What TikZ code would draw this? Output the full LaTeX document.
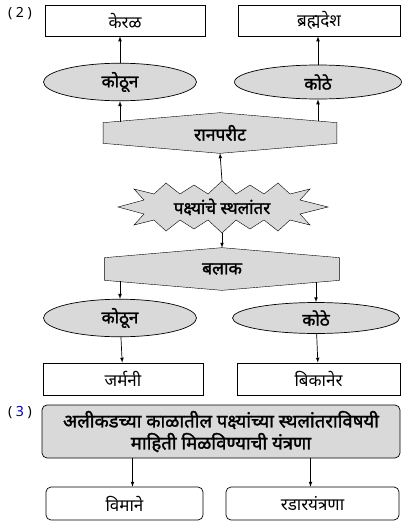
\documentclass[tikz,border=0pt]{standalone}
\usepackage{fontspec}
\newfontfamily\deva[Script=Devanagari]{Noto Sans}
\newfontfamily\devab[Script=Devanagari, FakeBold=1.6]{Noto Sans}
\usetikzlibrary{shapes.geometric, positioning, backgrounds, calc, arrows}
\tikzstyle{place} = [rectangle, minimum width=160pt, minimum height=31pt, text centered, draw=black, font=\deva\fontsize{17}{20}\selectfont]
\tikzstyle{oval} = [ellipse, minimum width=153pt, minimum height=34pt, text centered, draw=black, fill=gray!30, font=\devab\fontsize{17}{20}\selectfont]
\tikzstyle{hexa} = [rectangle, minimum width=233pt, minimum height=40pt, text centered, font=\devab\fontsize{17.5}{20}\selectfont]
\tikzstyle{hexfill} = [draw=black, fill=gray!30]
\tikzstyle{burst} = [rectangle, inner sep=0pt, minimum width=212pt, minimum height=52pt, text centered, font=\devab\fontsize{17}{20}\selectfont]
\tikzstyle{bigbox} = [rectangle, rounded corners=5pt, minimum width=358pt, minimum height=53pt, align=center, draw=black, fill=gray!30, font=\devab\fontsize{18.5}{22}\selectfont]
\tikzstyle{tool} = [rectangle, rounded corners=5pt, minimum height=33pt, text centered, draw=black, font=\deva\fontsize{17}{20}\selectfont]
\tikzstyle{qno} = [font=\deva\fontsize{14}{16}\selectfont]
\tikzstyle{arrow} = [->,>=latex]
\def\hx{10}
\newcommand{\hexoutline}[1]{%
  \begin{scope}[on background layer]
  \filldraw[hexfill] (#1.north) -- ($(#1.north east)+(0,\hx)$) -- ($(#1.south east)+(0,-\hx)$) -- (#1.south) -- ($(#1.south west)+(0,-\hx)$) -- ($(#1.north west)+(0,\hx)$) -- cycle;
  \end{scope}}

\begin{document}
\begin{tikzpicture}[x=1pt, y=-1pt, line width=0.7pt]
\useasboundingbox (0,0) rectangle (408,528);

\node (lbltwo) [qno] at (20,14) {( 2 )};

\node (kerala) [place] at (125,20.5) {केरळ};
\node (brahma) [place, minimum width=162pt] at (319,20.5) {ब्रह्मदेश};
\node (kotun1) [oval] at (120,82) {कोठून};
\node (kothe1) [oval, minimum width=167pt] at (318,82) {कोठे};
\draw [arrow] (kotun1) -- (kerala.south -| kotun1);
\draw [arrow] (kothe1) -- (brahma.south -| kothe1);

\node (ranparit) [hexa] at (220,133) {रानपरीट};
\hexoutline{ranparit}
\draw [arrow] ($(ranparit.north -| kotun1)+(0,9)$) -- (kotun1);
\draw [arrow] ($(ranparit.north -| kothe1)+(0,8)$) -- (kothe1);

% starburst drawn by hand round the text
\node (sthal) [burst] at (222,207) {पक्ष्यांचे स्थलांतर};
\begin{scope}[on background layer, shift={(sthal.center)}]
\filldraw[hexfill] (106,0) -- (78,7) -- (88,18) -- (68,13) -- (56,24) -- (42,13) -- (28,22) -- (14,13) -- (0,26) -- (-14,13) -- (-28,22) -- (-42,13) -- (-56,24) -- (-68,13) -- (-88,18) -- (-78,7) -- (-104,0) -- (-78,-7) -- (-88,-18) -- (-68,-13) -- (-56,-24) -- (-42,-13) -- (-28,-22) -- (-14,-13) -- (0,-26) -- (14,-13) -- (28,-22) -- (42,-13) -- (56,-24) -- (68,-13) -- (88,-18) -- (78,-7) -- cycle;
\end{scope}
\draw [arrow] (sthal.north) -- (ranparit.south);

\node (balak) [hexa, minimum width=234pt, minimum height=42pt] at (222,269) {बलाक};
\hexoutline{balak}
\draw [arrow] (sthal.south) -- (balak.north);

\node (kotun2) [oval, minimum height=30pt] at (120,318) {कोठून};
\node (kothe2) [oval, minimum height=30pt, minimum width=167pt] at (316,318) {कोठे};
\draw [arrow] ($(balak.south -| kotun2)+(0,-9)$) -- (kotun2);
\draw [arrow] ($(balak.south -| kothe2)+(0,-8)$) -- (kothe2);

\node (jarmani) [place, minimum height=32pt] at (123,379) {जर्मनी};
\node (bikaner) [place, minimum height=32pt, minimum width=163pt] at (318.5,379) {बिकानेर};
\draw [arrow] (kotun2) -- (jarmani);
\draw [arrow] (kothe2) -- (bikaner);

\node (lblthree) [qno] at (20,413) {( \textcolor{blue!70!black}{3} )};
\node (yantrana) [bigbox] at (221,431.5) {अलीकडच्या काळातील पक्ष्यांच्या स्थलांतराविषयी\\ माहिती मिळविण्याची यंत्रणा};

\node (vimane) [tool, minimum width=157pt] at (124.5,503.5) {विमाने};
\node (radar) [tool, minimum width=173pt] at (312.5,503.5) {रडारयंत्रणा};
\draw [arrow] ($(yantrana.south -| vimane)+(8,0)$) -- ($(vimane.north)+(8,0)$);
\draw [arrow] ($(yantrana.south -| radar)+(-2,0)$) -- ($(radar.north)+(-2,0)$);

\end{tikzpicture}
\end{document}
